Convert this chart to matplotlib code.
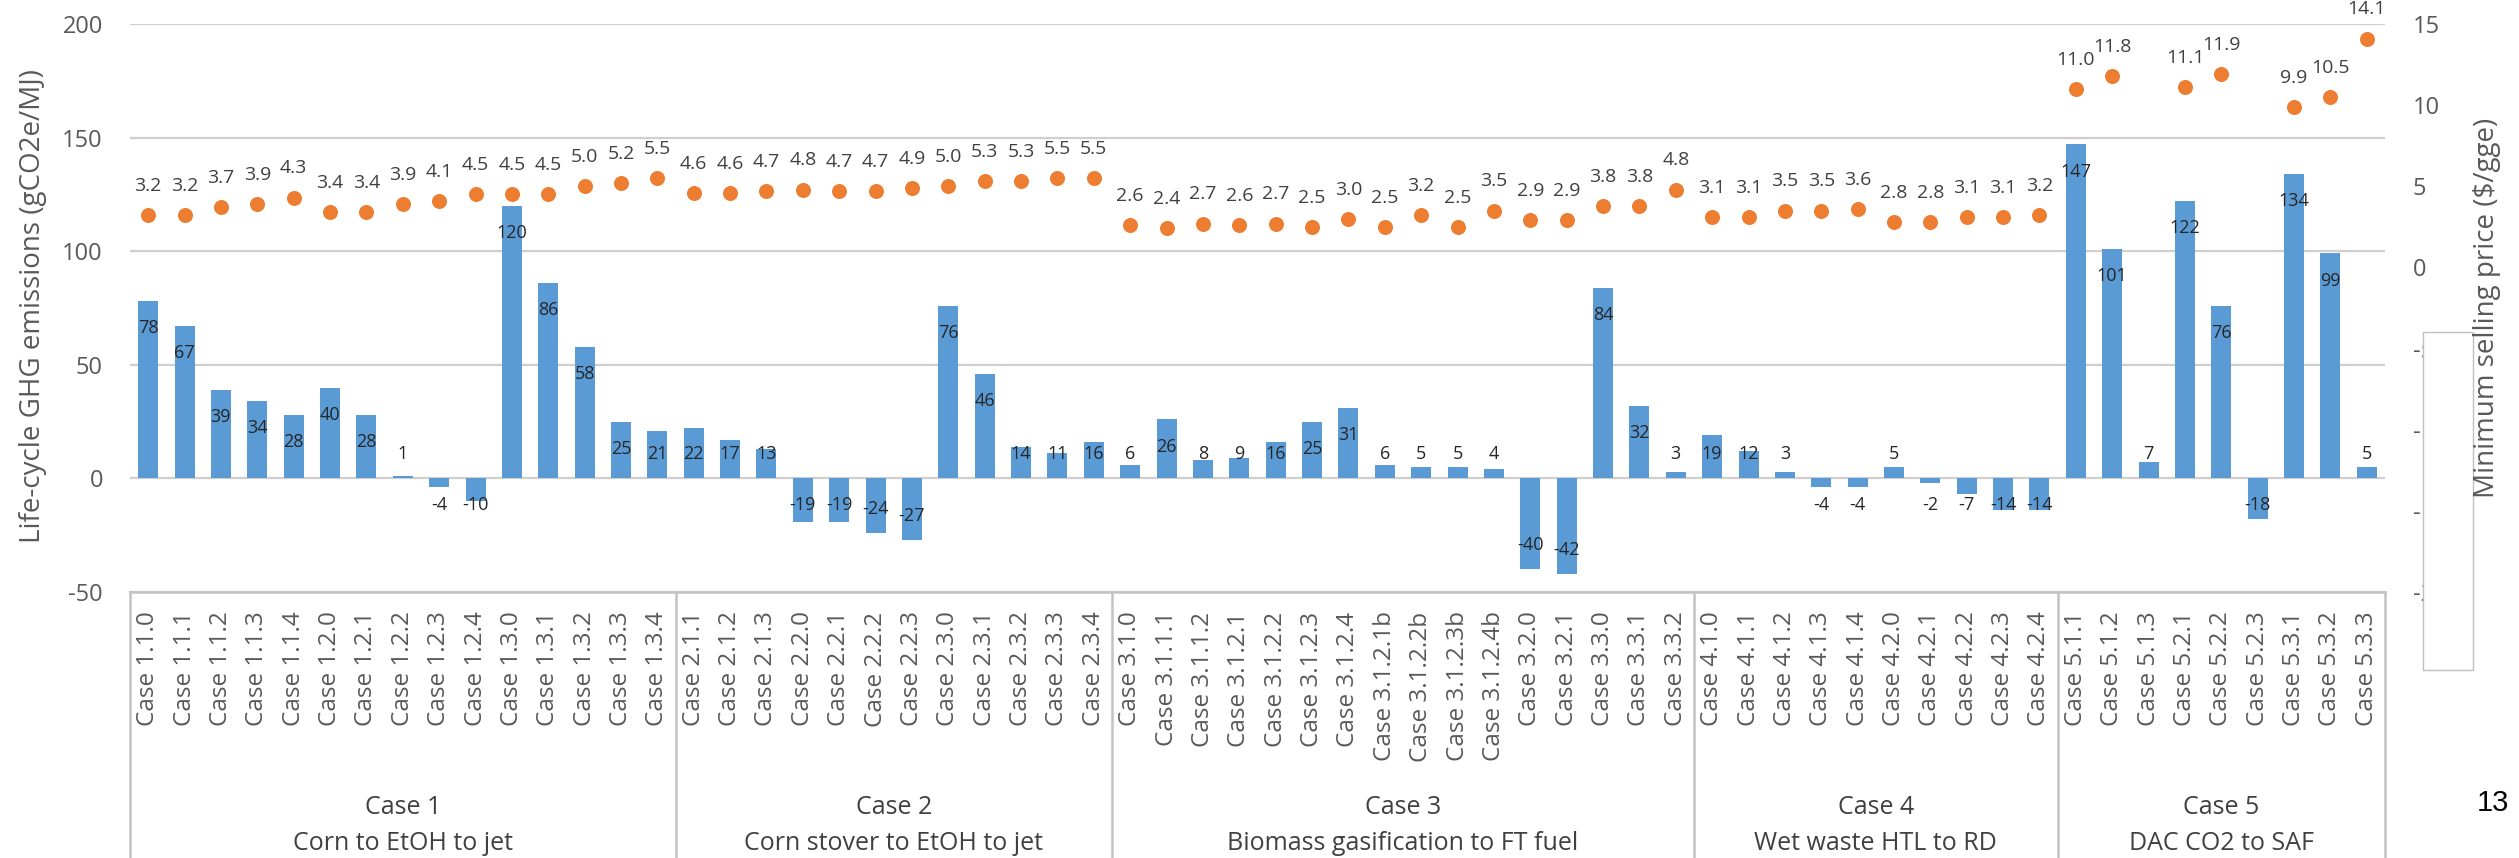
import numpy as np
import matplotlib
matplotlib.use("Agg")
import matplotlib.pyplot as plt
from matplotlib.patches import Rectangle
from matplotlib.transforms import blended_transform_factory

plt.rcParams['font.family'] = ['Open Sans', 'DejaVu Sans']

# ---- data -------------------------------------------------------------
groups = ["Case 1", "Case 2", "Case 3", "Case 4", "Case 5"]
group_desc = ["Corn to EtOH to jet", "Corn stover to EtOH to jet",
              "Biomass gasification to FT fuel", "Wet waste HTL to RD",
              "DAC CO2 to SAF"]

cases = [
    "Case 1.1.0", "Case 1.1.1", "Case 1.1.2", "Case 1.1.3", "Case 1.1.4",
    "Case 1.2.0", "Case 1.2.1", "Case 1.2.2", "Case 1.2.3", "Case 1.2.4",
    "Case 1.3.0", "Case 1.3.1", "Case 1.3.2", "Case 1.3.3", "Case 1.3.4",
    "Case 2.1.1", "Case 2.1.2", "Case 2.1.3", "Case 2.2.0", "Case 2.2.1",
    "Case 2.2.2", "Case 2.2.3", "Case 2.3.0", "Case 2.3.1", "Case 2.3.2",
    "Case 2.3.3", "Case 2.3.4",
    "Case 3.1.0", "Case 3.1.1.1", "Case 3.1.1.2", "Case 3.1.2.1", "Case 3.1.2.2",
    "Case 3.1.2.3", "Case 3.1.2.4", "Case 3.1.2.1b", "Case 3.1.2.2b",
    "Case 3.1.2.3b", "Case 3.1.2.4b", "Case 3.2.0", "Case 3.2.1", "Case 3.3.0",
    "Case 3.3.1", "Case 3.3.2",
    "Case 4.1.0", "Case 4.1.1", "Case 4.1.2", "Case 4.1.3", "Case 4.1.4",
    "Case 4.2.0", "Case 4.2.1", "Case 4.2.2", "Case 4.2.3", "Case 4.2.4",
    "Case 5.1.1", "Case 5.1.2", "Case 5.1.3", "Case 5.2.1", "Case 5.2.2",
    "Case 5.2.3", "Case 5.3.1", "Case 5.3.2", "Case 5.3.3",
]

# life-cycle GHG emissions, gCO2e/MJ
ghg = [78, 67, 39, 34, 28, 40, 28, 1, -4, -10, 120, 86, 58, 25, 21,
       22, 17, 13, -19, -19, -24, -27, 76, 46, 14, 11, 16,
       6, 26, 8, 9, 16, 25, 31, 6, 5, 5, 4, -40, -42, 84, 32, 3,
       19, 12, 3, -4, -4, 5, -2, -7, -14, -14,
       147, 101, 7, 122, 76, -18, 134, 99, 5]

# minimum selling price, $/gge (None where not reported)
msp = [3.2, 3.2, 3.7, 3.9, 4.3, 3.4, 3.4, 3.9, 4.1, 4.5, 4.5, 4.5, 5.0, 5.2, 5.5,
       4.6, 4.6, 4.7, 4.8, 4.7, 4.7, 4.9, 5.0, 5.3, 5.3, 5.5, 5.5,
       2.6, 2.4, 2.7, 2.6, 2.7, 2.5, 3.0, 2.5, 3.2, 2.5, 3.5, 2.9, 2.9, 3.8, 3.8, 4.8,
       3.1, 3.1, 3.5, 3.5, 3.6, 2.8, 2.8, 3.1, 3.1, 3.2,
       11.0, 11.8, None, 11.1, 11.9, None, 9.9, 10.5, 14.1]

ghg_ticks = [-50, 0, 50, 100, 150, 200]
msp_ticks = [-20, -15, -10, -5, 0, 5, 10, 15]

# ---- layout -----------------------------------------------------------
W, H = 2519, 858
fig = plt.figure(figsize=(W / 100, H / 100), dpi=100)
fig.patch.set_facecolor("white")

def fx(px):
    return px / W

def fy(py):
    return 1 - py / H

ax_left, ax_right, ax_top, ax_bottom = 130, 2385, 24, 592
ax = fig.add_axes([fx(ax_left), fy(ax_bottom),
                   (ax_right - ax_left) / W, (ax_bottom - ax_top) / H])

n = len(cases)
x = np.arange(n)
BLUE = "#5B9BD5"
ORANGE = "#ED7D31"
GRID = "#cfcfcf"
TXT = "#595959"

ax.bar(x, ghg, width=0.55, color=BLUE, zorder=2)
ax.set_xlim(-0.5, n - 0.5)
ax.set_ylim(ghg_ticks[0], ghg_ticks[-1])
ax.set_yticks(ghg_ticks)
ax.set_yticklabels([str(t) for t in ghg_ticks])
ax.yaxis.grid(True, color=GRID, linewidth=1.6, zorder=0)
ax.set_axisbelow(True)
for s in ax.spines.values():
    s.set_visible(False)
ax.tick_params(axis="y", length=0, pad=19.5, labelsize=17, labelcolor=TXT)
ax.set_xticks(x)
ax.set_xticklabels(cases, rotation=90, fontsize=17.5, color=TXT)
ax.tick_params(axis="x", length=0, pad=14)

# value labels on the bars (inside end, kept clear of the zero line)
for i, v in enumerate(ghg):
    if v >= 0:
        ly = max(v - 12, 10.6)
    else:
        ly = min(v + 10.5, -11.5)
    ax.text(i, ly, str(v), ha="center", va="center", fontsize=13,
            color="#262626", zorder=3)

# secondary axis: minimum selling price
ax2 = ax.twinx()
ax2.set_ylim(msp_ticks[0], msp_ticks[-1])
ax2.set_yticks(msp_ticks)
ax2.set_yticklabels([str(t) for t in msp_ticks])
for s in ax2.spines.values():
    s.set_visible(False)
ax2.tick_params(axis="y", length=0, pad=20, labelsize=17, labelcolor=TXT)

px_ = [i for i, p in enumerate(msp) if p is not None]
pv_ = [p for p in msp if p is not None]
ax2.plot(px_, pv_, linestyle="none", marker="o", markersize=10.8,
         color=ORANGE, markeredgewidth=0, zorder=4)
for i, p in zip(px_, pv_):
    ax2.annotate(f"{p:.1f}", (i, p), xytext=(0, 21), textcoords="offset points",
                 ha="center", va="center", fontsize=14, color="#404040")

# category box below the plot
trans = blended_transform_factory(ax.transData, ax.transAxes)
box_bottom = -0.5
line_kw = dict(color="#c3c3c3", linewidth=1.8, transform=trans, clip_on=False)
ax.plot([-0.5, n - 0.5], [0, 0], **line_kw)

# group boundaries from the case labels
prefixes = [c.split()[1].split(".")[0] for c in cases]
bounds = [-0.5]
for i in range(1, n):
    if prefixes[i] != prefixes[i - 1]:
        bounds.append(i - 0.5)
bounds.append(n - 0.5)
for b in bounds:
    ax.plot([b, b], [0, box_bottom], **line_kw)

h_ax = ax_bottom - ax_top
for g, (a, b) in enumerate(zip(bounds[:-1], bounds[1:])):
    cx = (a + b) / 2
    ax.text(cx, (ax_bottom - 808) / h_ax, groups[g], transform=trans,
            ha="center", va="center", fontsize=18, color="#404040")
    ax.text(cx, (ax_bottom - 843) / h_ax, group_desc[g], transform=trans,
            ha="center", va="center", fontsize=18, color="#404040")

# axis titles
fig.text(fx(33), fy(306), "Life-cycle GHG emissions (gCO2e/MJ)", rotation=90,
         ha="center", va="center", fontsize=20, color=TXT)

fig.add_artist(Rectangle((fx(2423), fy(670)), 50 / W, 338 / H,
                         transform=fig.transFigure, facecolor="white",
                         edgecolor="#bfbfbf", linewidth=1, zorder=5))

fig.text(fx(2487), fy(308), "Minimum selling price ($/gge)", rotation=90,
         ha="center", va="center", fontsize=20, color=TXT, zorder=6)

fig.text(fx(2493), fy(803), "13", ha="center", va="center", fontsize=21,
         family="Liberation Sans", color="black", zorder=6)

fig.savefig("out.png", dpi=100)
